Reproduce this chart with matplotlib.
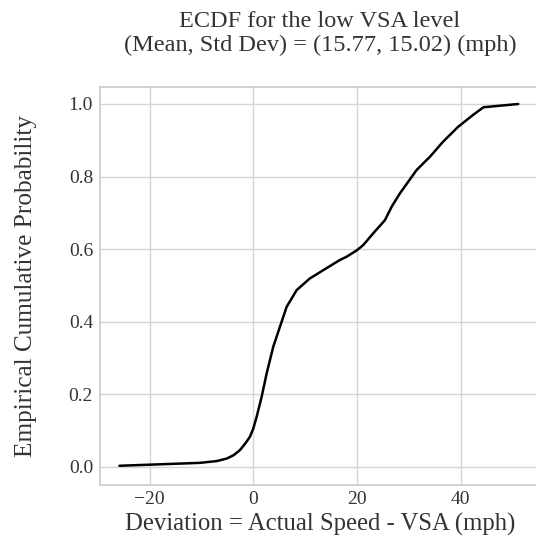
import matplotlib
matplotlib.use("Agg")
import matplotlib.pyplot as plt
import seaborn as sns
import numpy as np

sns.set_theme(style="whitegrid")
plt.rcParams['font.family'] = ['Liberation Serif', 'DejaVu Serif']

deviation = [-25.8, -10.3, -7.0, -5.1, -3.8, -2.57, -1.5, -0.64, 0.0, 0.66, 1.62, 2.58,
             3.86, 5.15, 6.44, 8.37, 10.9, 13.5, 16.7, 18.0, 20.0, 21.2, 23.1, 25.4,
             26.7, 28.3, 31.5, 34.1, 36.6, 39.5, 42.4, 44.4, 51.1]
ecdf = [0.003, 0.011, 0.016, 0.023, 0.032, 0.046, 0.065, 0.083, 0.105, 0.138, 0.193, 0.257,
        0.331, 0.386, 0.441, 0.487, 0.519, 0.542, 0.570, 0.579, 0.597, 0.611, 0.643, 0.680,
        0.717, 0.754, 0.818, 0.855, 0.896, 0.937, 0.970, 0.991, 1.0]

title = "ECDF for the low VSA level\n(Mean, Std Dev) = (15.77, 15.02) (mph)"
xlabel = "Deviation = Actual Speed - VSA (mph)"
ylabel = "Empirical Cumulative Probability"

fig = plt.figure(figsize=(5.36, 5.42), dpi=100)
W, H = 536, 542
ax = fig.add_axes([100 / W, 57 / H, 440 / W, (485 - 87.3) / H])
ax.plot(deviation, ecdf, color="black", lw=1.8)
ax.set_xlim(-29.55, 55.3)
ax.set_ylim(-0.05, 1.046)
ax.set_xticks([-20, 0, 20, 40])
ax.set_yticks([0.0, 0.2, 0.4, 0.6, 0.8, 1.0])
ax.tick_params(labelsize=14, colors="#333333", length=0)
ax.tick_params(axis="x", pad=4.5)
ax.tick_params(axis="y", pad=5)
ax.set_xlabel(xlabel, fontsize=17.8, color="#333333", labelpad=3)
ax.set_ylabel(ylabel, fontsize=18.2, color="#333333", labelpad=23)
ax.set_title(title, fontsize=17.5, color="#333333", pad=26)
for s in ax.spines.values():
    s.set_color("#cccccc")
ax.grid(color="#d5d5d5")

fig.savefig("out.png", dpi=100)
